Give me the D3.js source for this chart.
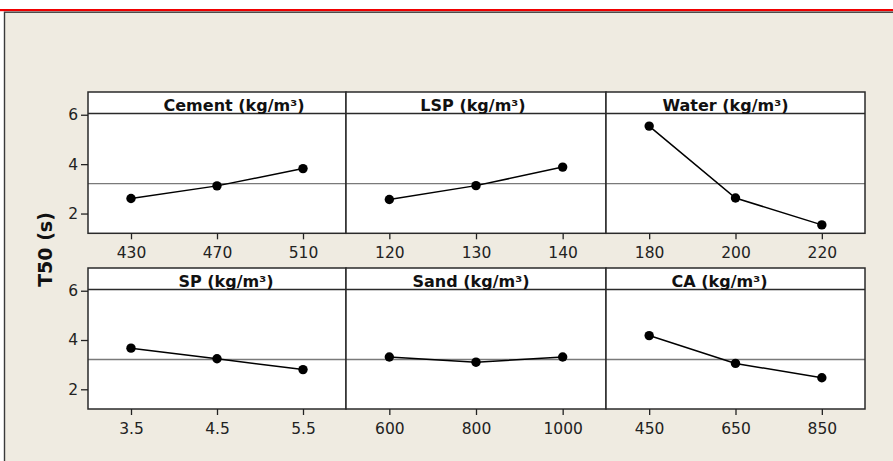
<!DOCTYPE html>
<html>
<head>
<meta charset="utf-8">
<script src="https://cdn.jsdelivr.net/npm/d3@7"></script>
<style>
  html, body { margin: 0; padding: 0; background: #ffffff; }
  svg { display: block; }
  text { font-family: "DejaVu Sans", Verdana, sans-serif; }
</style>
</head>
<body>
<div id="chart"></div>
<script>
// ---- data ----
const factorTitles = ["Cement (kg/m³)", "LSP (kg/m³)", "Water (kg/m³)", "SP (kg/m³)", "Sand (kg/m³)", "CA (kg/m³)"];
const cementLevels = ["430", "470", "510"];
const cementT50 = [2.61, 3.12, 3.82];
const lspLevels = ["120", "130", "140"];
const lspT50 = [2.57, 3.13, 3.88];
const waterLevels = ["180", "200", "220"];
const waterT50 = [5.54, 2.63, 1.54];
const spLevels = ["3.5", "4.5", "5.5"];
const spT50 = [3.67, 3.24, 2.80];
const sandLevels = ["600", "800", "1000"];
const sandT50 = [3.31, 3.10, 3.31];
const caLevels = ["450", "650", "850"];
const caT50 = [4.18, 3.05, 2.47];
const yTicks = [2, 4, 6];
const grandMean = 3.21;
const yTitle = "T50 (s)";

const levelsList = [cementLevels, lspLevels, waterLevels, spLevels, sandLevels, caLevels];
const valuesList = [cementT50, lspT50, waterT50, spT50, sandT50, caT50];

// ---- layout ----
const W = 893, H = 461;
const colX = [88, 346, 606, 865];
const rowTop = [92, 268];
const stripH = 21.5;
const rowBottom = [233.3, 409];
const titleDx = [17, -3, -10, 9, -5, -16];

const svg = d3.select("#chart").append("svg").attr("width", W).attr("height", H);

// background frame
svg.append("rect").attr("x", 0).attr("y", 0).attr("width", W).attr("height", H).attr("fill", "#ffffff");
svg.append("rect").attr("x", 0).attr("y", 9).attr("width", W).attr("height", 2.2).attr("fill", "#f00000");
svg.append("rect").attr("x", 4.5).attr("y", 12.2).attr("width", W + 10).attr("height", H + 10)
  .attr("fill", "#efebe1").attr("stroke", "#3a3a3a").attr("stroke-width", 1.4);

const y = d3.scaleLinear().domain([1.2, 6.05]);

for (let i = 0; i < 6; i++) {
  const r = Math.floor(i / 3), c = i % 3;
  const x0 = colX[c], x1 = colX[c + 1];
  const top = rowTop[r], bot = rowBottom[r], stripBot = top + stripH;
  const g = svg.append("g");

  const ys = y.copy().range([bot, stripBot]);
  const xs = d3.scalePoint().domain(levelsList[i]).range([x0, x1]).padding(0.5);

  g.append("rect").attr("x", x0).attr("y", top).attr("width", x1 - x0).attr("height", bot - top)
    .attr("fill", "#ffffff");

  // grand mean reference line
  g.append("line").attr("x1", x0).attr("x2", x1).attr("y1", ys(grandMean)).attr("y2", ys(grandMean))
    .attr("stroke", "#7a7a7a").attr("stroke-width", 1.3);

  // data line + points
  const pts = levelsList[i].map((l, k) => [xs(l), ys(valuesList[i][k])]);
  g.append("path").attr("d", d3.line()(pts)).attr("fill", "none")
    .attr("stroke", "#000").attr("stroke-width", 1.5);
  g.selectAll("circle").data(pts).enter().append("circle")
    .attr("cx", d => d[0]).attr("cy", d => d[1]).attr("r", 4.7).attr("fill", "#000");

  // strip
  g.append("line").attr("x1", x0).attr("x2", x1).attr("y1", stripBot).attr("y2", stripBot)
    .attr("stroke", "#2a2a2a").attr("stroke-width", 1.6);
  g.append("text").attr("x", (x0 + x1) / 2 + titleDx[i]).attr("y", stripBot - 2.5)
    .attr("text-anchor", "middle").attr("font-weight", "bold").attr("font-size", 16)
    .attr("fill", "#111").text(factorTitles[i]);

  // border
  g.append("rect").attr("x", x0).attr("y", top).attr("width", x1 - x0).attr("height", bot - top)
    .attr("fill", "none").attr("stroke", "#2a2a2a").attr("stroke-width", 1.5);

  // x axis
  const xa = g.append("g").attr("transform", `translate(0,${bot})`)
    .call(d3.axisBottom(xs).tickSize(6).tickPadding(8));
  xa.select(".domain").remove();
  xa.selectAll("line").attr("stroke", "#222").attr("stroke-width", 1.3);
  xa.selectAll("text").attr("font-size", 15.5).attr("fill", "#222")
    .style("font-family", '"DejaVu Sans", sans-serif');

  // y axis on first column
  if (c === 0) {
    const ya = g.append("g").attr("transform", `translate(${x0},0)`)
      .call(d3.axisLeft(ys).tickValues(yTicks).tickFormat(d3.format("d")).tickSize(7).tickPadding(3));
    ya.select(".domain").remove();
    ya.selectAll("line").attr("stroke", "#222").attr("stroke-width", 1.3);
    ya.selectAll("text").attr("font-size", 15.5).attr("fill", "#222")
      .style("font-family", '"DejaVu Sans", sans-serif');
  }
}

svg.append("text").attr("transform", "translate(52,249.5) rotate(-90)")
  .attr("text-anchor", "middle").attr("font-weight", "bold").attr("font-size", 19)
  .attr("fill", "#111").text(yTitle);
</script>
</body>
</html>
